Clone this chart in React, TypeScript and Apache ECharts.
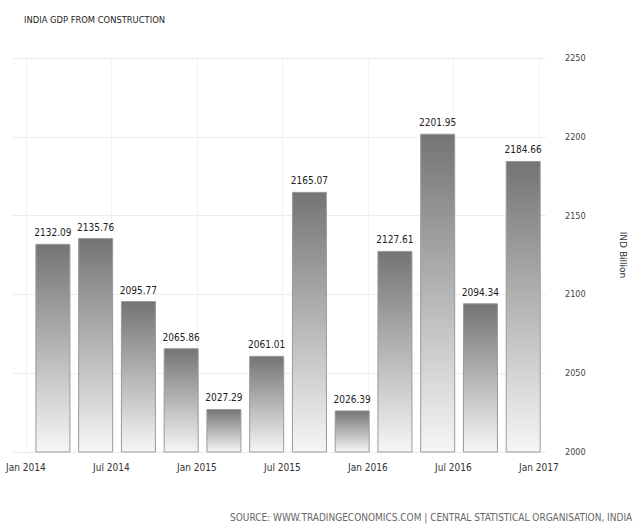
import React, { useEffect, useRef } from "react";
import * as echarts from "echarts";

const quarters = [
  "Q1 2014", "Q2 2014", "Q3 2014", "Q4 2014",
  "Q1 2015", "Q2 2015", "Q3 2015", "Q4 2015",
  "Q1 2016", "Q2 2016", "Q3 2016", "Q4 2016",
];
const values = [
  2132.09, 2135.76, 2095.77, 2065.86, 2027.29, 2061.01,
  2165.07, 2026.39, 2127.61, 2201.95, 2094.34, 2184.66,
];
const xTickMonths = [0, 6, 12, 18, 24, 30, 36];
const xTickLabels = ["Jan 2014", "Jul 2014", "Jan 2015", "Jul 2015", "Jan 2016", "Jul 2016", "Jan 2017"];
const yTicks = [2000, 2050, 2100, 2150, 2200, 2250];

const FONT = "'DejaVu Sans Condensed', sans-serif";

export default function App() {
  const ref = useRef<HTMLDivElement>(null);
  useEffect(() => {
    if (!ref.current) return;
    const chart = echarts.init(ref.current, undefined, { renderer: "svg" });
    // months since Jan 2014 for each quarter's bar
    const barPos = quarters.map((_, i) => i * 3 + 1.9);
    chart.setOption({
      animation: false,
      backgroundColor: "#ffffff",
      textStyle: { fontFamily: FONT },
      title: {
        text: "INDIA GDP FROM CONSTRUCTION",
        left: 19,
        top: 10,
        textStyle: { fontSize: 9.3, fontWeight: "normal", color: "#222", fontFamily: FONT },
      },
      grid: { left: 13, right: 87, top: 58, bottom: 79 },
      xAxis: {
        type: "value",
        min: -0.9,
        max: 36.5,
        axisLine: { show: false },
        axisTick: { show: false, customValues: xTickMonths },
        axisLabel: {
          customValues: xTickMonths,
          formatter: (v: number) => xTickLabels[xTickMonths.indexOf(Math.round(v))] ?? "",
          fontSize: 10,
          color: "#333",
          margin: 10,
          fontFamily: FONT,
        },
        splitLine: { show: true, lineStyle: { color: "#f2f2f2", width: 1 } },
      },
      yAxis: {
        type: "value",
        position: "right",
        min: yTicks[0],
        max: yTicks[yTicks.length - 1],
        interval: 50,
        name: "IND Billion",
        nameLocation: "middle",
        nameRotate: -90,
        nameGap: 72,
        nameTextStyle: { fontSize: 9, color: "#333", fontFamily: "'DejaVu Sans', sans-serif" },
        axisLine: { show: false },
        axisTick: { show: false },
        axisLabel: {
          fontSize: 9,
          color: "#444",
          margin: 19,
          fontFamily: FONT,
          formatter: (v: number) => String(v),
        },
        splitLine: { show: true, lineStyle: { color: "#ececec", width: 1 } },
      },
      series: [
        {
          type: "bar",
          barWidth: 35,
          data: values.map((v, i) => [barPos[i], v]),
          itemStyle: {
            color: new echarts.graphic.LinearGradient(0, 0, 0, 1, [
              { offset: 0, color: "#747474" },
              { offset: 1, color: "#f6f6f6" },
            ]),
            borderColor: "#9a9a9a",
            borderWidth: 1,
          },
          label: {
            show: true,
            position: "top",
            distance: 6,
            fontSize: 10,
            color: "#222",
            fontFamily: FONT,
            formatter: (p: any) => p.value[1].toFixed(2),
          },
        },
      ],
      graphic: [
        {
          type: "text",
          x: 230,
          y: 517,
          style: {
            text: "SOURCE: WWW.TRADINGECONOMICS.COM | CENTRAL STATISTICAL ORGANISATION, INDIA",
            fontSize: 10,
            fill: "#666",
            fontFamily: FONT,
            align: "left",
            verticalAlign: "middle",
          },
        },
      ],
    });
    return () => chart.dispose();
  }, []);
  return <div ref={ref} style={{ width: 635, height: 531, position: "absolute", left: 0, top: 0 }} />;
}
